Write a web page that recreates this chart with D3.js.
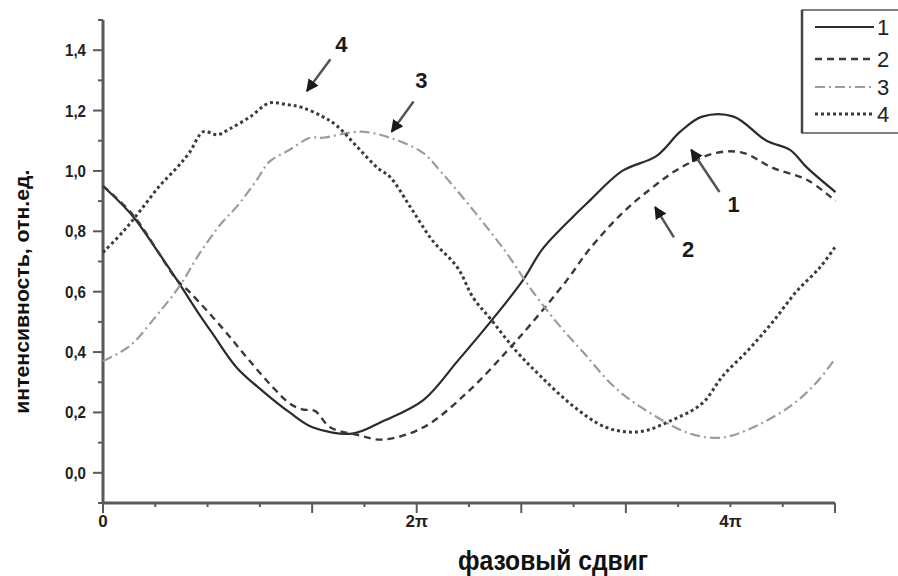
<!DOCTYPE html>
<html>
<head>
<meta charset="utf-8">
<script src="https://cdn.jsdelivr.net/npm/d3@7"></script>
<style>
  body { margin: 0; background: #fff; }
  svg { display: block; }
  text { font-family: "Liberation Sans", Arial, sans-serif; }
</style>
</head>
<body>
<svg id="chart"></svg>
<script>
// phase in units of pi, intensity in relative units
let phase1 = [0.00, 0.19, 0.34, 0.47, 0.62, 0.70, 0.85, 1.02, 1.19, 1.34, 1.59, 1.78, 2.04, 2.26, 2.47, 2.68, 2.80, 3.00, 3.10, 3.31, 3.53, 3.68, 3.82, 4.02, 4.23, 4.38, 4.49, 4.67];
let int1   = [0.95, 0.85, 0.74, 0.64, 0.52, 0.46, 0.35, 0.27, 0.20, 0.15, 0.13, 0.17, 0.24, 0.37, 0.50, 0.64, 0.74, 0.85, 0.90, 1.00, 1.05, 1.13, 1.18, 1.18, 1.10, 1.07, 1.01, 0.93];

let phase2 = [0.00, 0.19, 0.47, 0.55, 0.76, 0.92, 1.08, 1.19, 1.27, 1.35, 1.45, 1.62, 1.78, 2.04, 2.32, 2.57, 2.74, 2.96, 3.10, 3.31, 3.49, 3.68, 3.91, 4.08, 4.27, 4.49, 4.67];
let int2   = [0.95, 0.855, 0.64, 0.60, 0.48, 0.38, 0.285, 0.23, 0.21, 0.205, 0.15, 0.126, 0.11, 0.15, 0.265, 0.40, 0.50, 0.64, 0.74, 0.86, 0.94, 1.01, 1.06, 1.06, 1.01, 0.97, 0.90];

let phase3 = [0.00, 0.17, 0.34, 0.49, 0.62, 0.76, 0.85, 0.98, 1.06, 1.19, 1.32, 1.40, 1.64, 1.83, 2.04, 2.15, 2.36, 2.57, 2.74, 2.89, 3.06, 3.28, 3.53, 3.74, 3.93, 4.10, 4.38, 4.55, 4.67];
let int3   = [0.37, 0.42, 0.52, 0.62, 0.73, 0.83, 0.88, 0.97, 1.03, 1.07, 1.11, 1.11, 1.13, 1.11, 1.06, 1.00, 0.87, 0.73, 0.60, 0.50, 0.40, 0.275, 0.185, 0.13, 0.116, 0.14, 0.22, 0.30, 0.38];

let phase4 = [0.00, 0.13, 0.24, 0.36, 0.47, 0.55, 0.64, 0.73, 0.81, 0.94, 1.06, 1.17, 1.27, 1.40, 1.49, 1.62, 1.75, 1.83, 1.96, 2.10, 2.26, 2.36, 2.47, 2.64, 2.79, 3.00, 3.21, 3.42, 3.63, 3.82, 3.95, 4.12, 4.27, 4.42, 4.57, 4.67];
let int4   = [0.73, 0.80, 0.87, 0.95, 1.01, 1.06, 1.13, 1.12, 1.14, 1.18, 1.225, 1.22, 1.21, 1.18, 1.15, 1.08, 1.01, 0.98, 0.88, 0.77, 0.68, 0.58, 0.51, 0.40, 0.32, 0.22, 0.15, 0.136, 0.175, 0.23, 0.32, 0.41, 0.50, 0.60, 0.68, 0.75];

let seriesNames = ['1', '2', '3', '4'];
let yTicks = [0, 0.2, 0.4, 0.6, 0.8, 1.0, 1.2, 1.4];
let xTickLabels = { 0: '0', 6: '2π', 12: '4π' };  // keyed by multiples of pi/3

// annotations: label position, arrow tail and tip, in data units
let annotations = [
    { label: '4', at: [1.52, 1.42], from: [1.45, 1.37], to: [1.30, 1.265] },
    { label: '3', at: [2.03, 1.30], from: [1.98, 1.23], to: [1.84, 1.13] },
    { label: '1', at: [4.02, 0.89], from: [3.93, 0.93], to: [3.75, 1.07] },
    { label: '2', at: [3.73, 0.74], from: [3.64, 0.78], to: [3.52, 0.88] }
];

let styles = [
    { color: '#2b2b2b', width: 2.2, dash: null },
    { color: '#3a3a3a', width: 2.4, dash: '7,5' },
    { color: '#9c9c9c', width: 2.2, dash: '10,4,2,4' },
    { color: '#3c3c3c', width: 3, dash: '3,3' }
];

function getConfig() {
    let width = 898;
    let height = 576;
    let margin = { left: 103, right: 63, top: 20, bottom: 73 };
    let container = d3.select('#chart')
        .attr('width', width)
        .attr('height', height);
    return { width, height, margin, container };
}

function getScales(config) {
    let { width, height, margin } = config;
    let xScale = d3.scaleLinear()
        .domain([0, 14 / 3])
        .range([margin.left, width - margin.right]);
    let yScale = d3.scaleLinear()
        .domain([-0.1, 1.5])
        .range([height - margin.bottom, margin.top]);
    return { xScale, yScale };
}

function drawAxes(config, scales) {
    let { container, height, margin } = config;
    let { xScale, yScale } = scales;
    let axisColor = '#5a5a5a';

    // y axis: major ticks with labels, minor ticks in between
    let yMinor = d3.range(-0.1, 1.51, 0.1).map(v => Math.round(v * 10) / 10);
    let yAxis = container.append('g')
        .attr('transform', `translate(${margin.left},0)`);
    yAxis.append('line')
        .attr('y1', yScale(-0.1)).attr('y2', yScale(1.5))
        .attr('stroke', axisColor).attr('stroke-width', 3);
    yAxis.selectAll('.minor').data(yMinor)
        .enter().append('line')
        .attr('x1', d => yTicks.some(t => Math.abs(t - d) < 1e-6) ? -10 : -5)
        .attr('x2', 0)
        .attr('y1', d => yScale(d)).attr('y2', d => yScale(d))
        .attr('stroke', axisColor).attr('stroke-width', 2);
    yAxis.selectAll('.lbl').data(yTicks)
        .enter().append('text')
        .attr('x', -17)
        .attr('y', d => yScale(d) + 6)
        .attr('text-anchor', 'end')
        .attr('font-size', 17)
        .attr('font-weight', 'bold')
        .attr('fill', '#222')
        .attr('textLength', 21)
        .attr('lengthAdjust', 'spacingAndGlyphs')
        .text(d => d.toFixed(1).replace('.', ','));

    // x axis: ticks every pi/3
    let xTicks = d3.range(0, 15);
    let longTicks = [0, 4, 6, 8, 10, 14];
    let y0 = yScale(-0.1);
    let xAxis = container.append('g');
    xAxis.append('line')
        .attr('x1', xScale(0)).attr('x2', xScale(14 / 3))
        .attr('y1', y0).attr('y2', y0)
        .attr('stroke', axisColor).attr('stroke-width', 3);
    xAxis.selectAll('.tick').data(xTicks)
        .enter().append('line')
        .attr('x1', d => xScale(d / 3)).attr('x2', d => xScale(d / 3))
        .attr('y1', y0)
        .attr('y2', d => y0 + (longTicks.includes(d) ? 10 : 4))
        .attr('stroke', axisColor).attr('stroke-width', 2);
    xAxis.selectAll('.lbl').data(Object.keys(xTickLabels))
        .enter().append('text')
        .attr('x', d => xScale(d / 3))
        .attr('y', y0 + 24)
        .attr('text-anchor', 'middle')
        .attr('font-size', 17)
        .attr('font-weight', 'bold')
        .attr('fill', '#222')
        .text(d => xTickLabels[d]);

    // axis titles
    container.append('text')
        .attr('transform', `translate(29,${yScale(0.6)}) rotate(-90)`)
        .attr('text-anchor', 'middle')
        .attr('font-size', 21)
        .attr('font-weight', 'bold')
        .attr('fill', '#111')
        .attr('textLength', 244)
        .attr('lengthAdjust', 'spacingAndGlyphs')
        .text('интенсивность, отн.ед.');

    container.append('text')
        .attr('x', 553)
        .attr('y', height - 6)
        .attr('text-anchor', 'middle')
        .attr('font-size', 28)
        .attr('font-weight', 'bold')
        .attr('fill', '#111')
        .attr('textLength', 190)
        .attr('lengthAdjust', 'spacingAndGlyphs')
        .text('фазовый сдвиг');
}

function drawLines(config, scales) {
    let { container } = config;
    let { xScale, yScale } = scales;
    let series = [
        d3.zip(phase1, int1),
        d3.zip(phase2, int2),
        d3.zip(phase3, int3),
        d3.zip(phase4, int4)
    ];
    let line = d3.line()
        .x(d => xScale(d[0]))
        .y(d => yScale(d[1]))
        .curve(d3.curveCatmullRom.alpha(0.5));

    container.selectAll('.series').data(series)
        .enter().append('path')
        .attr('d', line)
        .attr('fill', 'none')
        .attr('stroke', (d, i) => styles[i].color)
        .attr('stroke-width', (d, i) => styles[i].width)
        .attr('stroke-dasharray', (d, i) => styles[i].dash);
}

function drawAnnotations(config, scales) {
    let { container } = config;
    let { xScale, yScale } = scales;

    container.append('defs').append('marker')
        .attr('id', 'head')
        .attr('viewBox', '0 0 10 10')
        .attr('refX', 9).attr('refY', 5)
        .attr('markerWidth', 5).attr('markerHeight', 5)
        .attr('orient', 'auto')
        .append('path')
        .attr('d', 'M0,0 L10,5 L0,10 z')
        .attr('fill', '#1a1a1a');

    let g = container.append('g');
    g.selectAll('line').data(annotations)
        .enter().append('line')
        .attr('x1', d => xScale(d.from[0])).attr('y1', d => yScale(d.from[1]))
        .attr('x2', d => xScale(d.to[0])).attr('y2', d => yScale(d.to[1]))
        .attr('stroke', '#555')
        .attr('stroke-width', 2.5)
        .attr('marker-end', 'url(#head)');
    g.selectAll('text').data(annotations)
        .enter().append('text')
        .attr('x', d => xScale(d.at[0]))
        .attr('y', d => yScale(d.at[1]) + 8)
        .attr('text-anchor', 'middle')
        .attr('font-size', 22)
        .attr('font-weight', 'bold')
        .attr('fill', '#1a1a1a')
        .text(d => d.label);
}

function drawLegend(config) {
    let { container, width } = config;
    let g = container.append('g');
    g.append('rect')
        .attr('x', 802).attr('y', 10)
        .attr('width', width - 802 + 5).attr('height', 123)
        .attr('fill', '#fff')
        .attr('stroke', '#555')
        .attr('stroke-width', 1.5);
    g.append('line')
        .attr('x1', 802).attr('x2', 802).attr('y1', 10).attr('y2', 133)
        .attr('stroke', '#444').attr('stroke-width', 2.5);
    let rowY = [27, 59, 87, 114];
    let rows = g.selectAll('.row').data(seriesNames)
        .enter().append('g')
        .attr('transform', (d, i) => `translate(0,${rowY[i]})`);
    rows.append('line')
        .attr('x1', 815).attr('x2', 874)
        .attr('stroke', (d, i) => styles[i].color)
        .attr('stroke-width', (d, i) => styles[i].width)
        .attr('stroke-dasharray', (d, i) => styles[i].dash);
    rows.append('text')
        .attr('x', 877).attr('y', 8)
        .attr('font-size', 22)
        .attr('fill', '#222')
        .text(d => d);
}

let config = getConfig();
let scales = getScales(config);
drawAxes(config, scales);
drawLines(config, scales);
drawAnnotations(config, scales);
drawLegend(config);
</script>
</body>
</html>
